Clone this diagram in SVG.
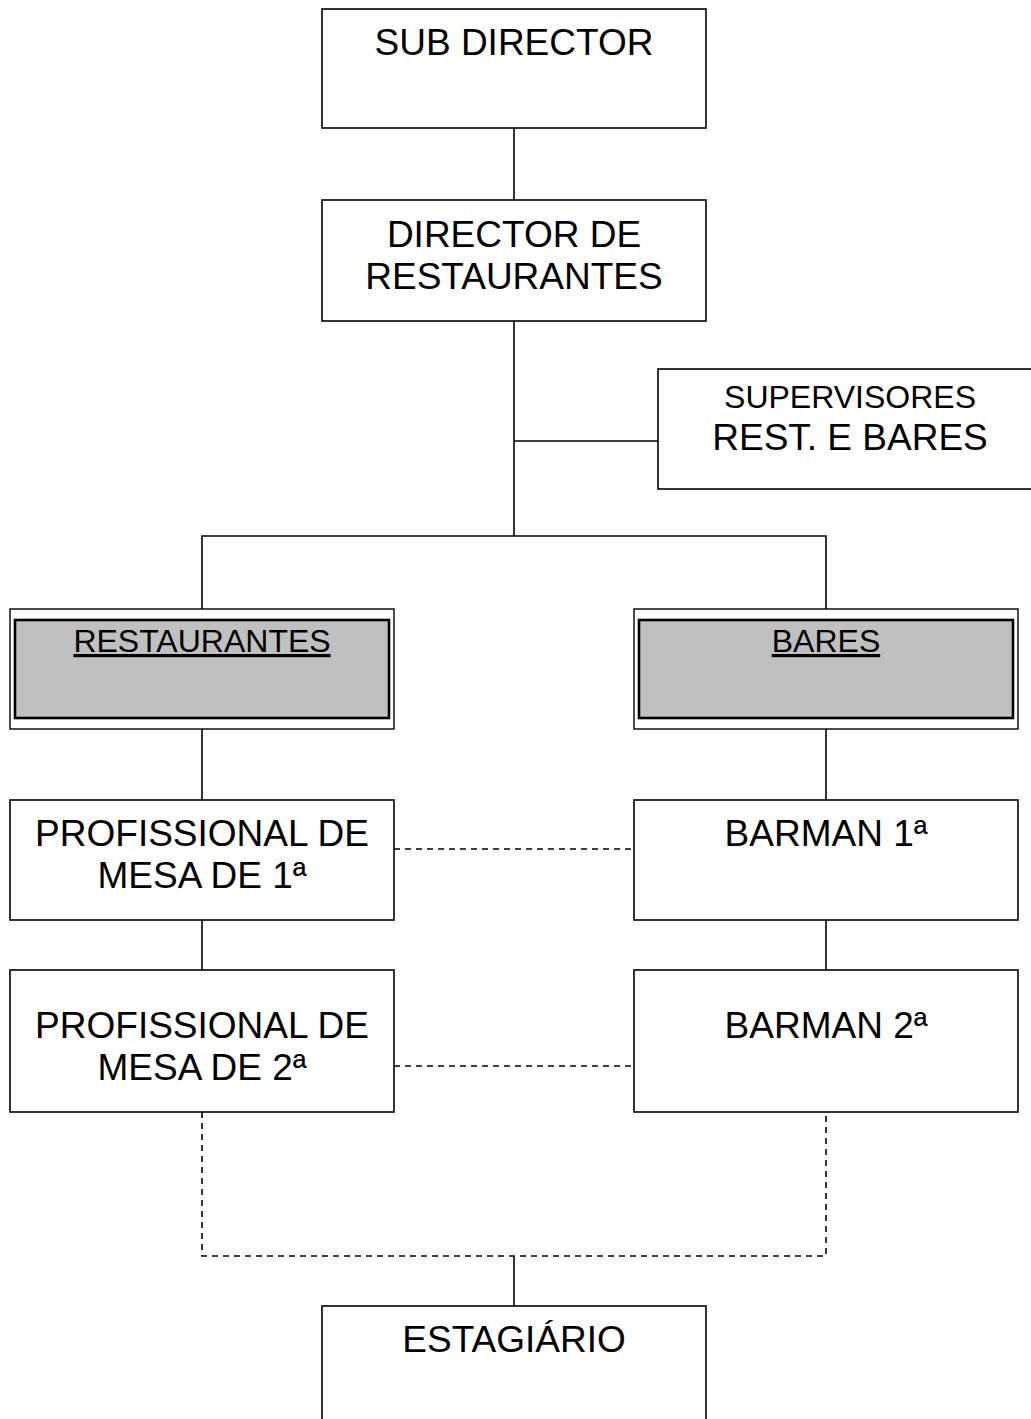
<svg xmlns="http://www.w3.org/2000/svg" width="1031" height="1419" viewBox="0 0 1031 1419">
<style>
.box{fill:#fff;stroke:#000;stroke-width:1.6}
.outer{fill:#fff;stroke:#000;stroke-width:1.4}
.inner{fill:#c0c0c0;stroke:#000;stroke-width:2.6}
.t{font-family:"Liberation Sans",Arial,sans-serif;font-size:37px;fill:#000;text-anchor:middle}
.s{font-size:32px}
.u{text-decoration:underline}
.ln{fill:none;stroke:#000;stroke-width:1.6}
.dl{fill:none;stroke:#000;stroke-width:1.6;stroke-dasharray:6,5}
</style>
<rect width="1031" height="1419" fill="#fff"/>
<g id="connectors">
<line class="ln" x1="514" y1="128" x2="514" y2="200"/>
<line class="ln" x1="514" y1="321" x2="514" y2="536"/>
<line class="ln" x1="514" y1="441" x2="658" y2="441"/>
<polyline class="ln" points="202,609 202,536 826,536 826,609"/>
<line class="ln" x1="202" y1="729" x2="202" y2="800"/>
<line class="ln" x1="826" y1="729" x2="826" y2="800"/>
<line class="ln" x1="202" y1="920" x2="202" y2="970"/>
<line class="ln" x1="826" y1="920" x2="826" y2="970"/>
<line class="dl" x1="394" y1="849" x2="634" y2="849"/>
<line class="dl" x1="394" y1="1066" x2="634" y2="1066"/>
<polyline class="dl" points="202,1112 202,1256 826,1256 826,1112"/>
<line class="ln" x1="514" y1="1256" x2="514" y2="1306"/>
</g>
<g id="sub-director">
<rect class="box" x="322" y="9" width="384" height="119"/>
<text class="t" x="514" y="55">SUB DIRECTOR</text>
</g>
<g id="director-restaurantes">
<rect class="box" x="322" y="200" width="384" height="121"/>
<text class="t" x="514" y="247">DIRECTOR DE</text>
<text class="t" x="514" y="289">RESTAURANTES</text>
</g>
<g id="supervisores">
<rect class="box" x="658" y="369" width="390" height="120"/>
<text class="t s" x="850" y="408">SUPERVISORES</text>
<text class="t" x="850" y="450">REST. E BARES</text>
</g>
<g id="restaurantes">
<rect class="outer" x="10" y="609" width="384" height="120"/>
<rect class="inner" x="15" y="620" width="374" height="98"/>
<text class="t s u" x="202" y="652">RESTAURANTES</text>
</g>
<g id="bares">
<rect class="outer" x="634" y="609" width="384" height="120"/>
<rect class="inner" x="639" y="620" width="374" height="98"/>
<text class="t s u" x="826" y="652">BARES</text>
</g>
<g id="profissional-1">
<rect class="box" x="10" y="800" width="384" height="120"/>
<text class="t" x="202" y="846">PROFISSIONAL DE</text>
<text class="t" x="202" y="888">MESA DE 1ª</text>
</g>
<g id="barman-1">
<rect class="box" x="634" y="800" width="384" height="120"/>
<text class="t" x="826" y="846">BARMAN 1ª</text>
</g>
<g id="profissional-2">
<rect class="box" x="10" y="970" width="384" height="142"/>
<text class="t" x="202" y="1038">PROFISSIONAL DE</text>
<text class="t" x="202" y="1080">MESA DE 2ª</text>
</g>
<g id="barman-2">
<rect class="box" x="634" y="970" width="384" height="142"/>
<text class="t" x="826" y="1038">BARMAN 2ª</text>
</g>
<g id="estagiario">
<rect class="box" x="322" y="1306" width="384" height="130"/>
<text class="t" x="514" y="1352">ESTAGIÁRIO</text>
</g>
</svg>
